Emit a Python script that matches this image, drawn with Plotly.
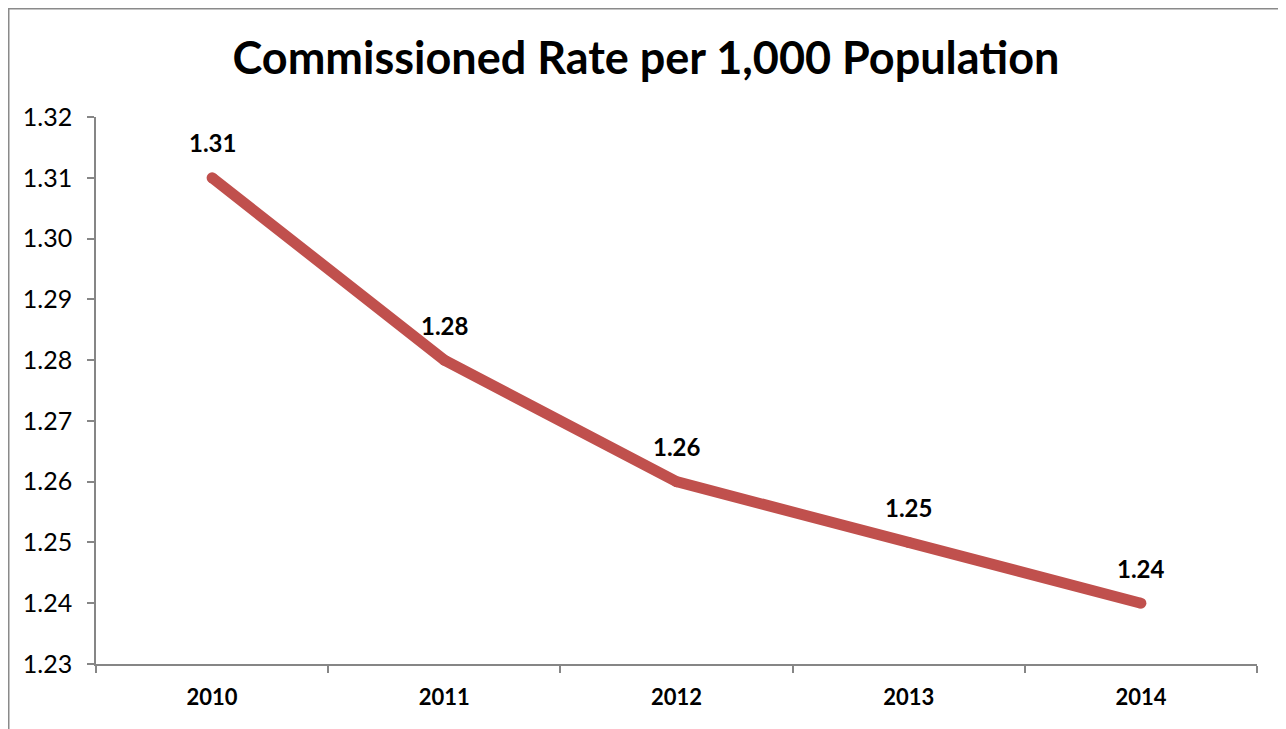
import plotly.graph_objects as go

# Data
years = ['2010', '2011', '2012', '2013', '2014']
rates = [1.31, 1.28, 1.26, 1.25, 1.24]
labels = ['1.31', '1.28', '1.26', '1.25', '1.24']

line_color = '#C0504D'
axis_color = '#868686'
font_family = 'Lato, Open Sans, sans-serif'

trace = go.Scatter(x=years, y=rates, mode='lines+markers',
                   line={'color': line_color, 'width': 11},
                   marker={'color': line_color, 'size': 11},
                   hoverinfo='x+y', showlegend=False)

fig = go.Figure(data=[trace])

# data labels above each point (x given as category index)
for i, (val, lab) in enumerate(zip(rates, labels)):
    fig.add_annotation(x=i, y=val, text='<b>' + lab + '</b>', showarrow=False,
                       yshift=35, font={'size': 24, 'color': 'black', 'family': font_family})

# page has an 8px body margin, so the figure is sized and placed to allow for it
FW, FH = 1278, 721
L, T, W, H = 88, 109, 1161, 547

# outer chart border (bottom edge runs off the page)
fig.add_shape(type='rect', xref='paper', yref='paper',
              x0=(0.75 - L) / W, x1=(1276 - L) / W,
              y0=(T + H - 760) / H, y1=(T + H - 0.75) / H,
              line={'color': '#8A8A8A', 'width': 1.5}, layer='below')

fig.update_layout(
    width=FW, height=FH,
    margin={'l': L, 'r': FW - L - W, 't': T, 'b': FH - T - H},
    paper_bgcolor='white', plot_bgcolor='white',
    font={'family': font_family, 'color': 'black'},
    title={'text': '<b>Commissioned Rate per 1,000 Population</b>',
           'x': 638 / FW, 'xanchor': 'center', 'y': 1 - 50 / FH, 'yanchor': 'middle',
           'font': {'size': 45, 'family': font_family, 'color': 'black'}},
    xaxis={'type': 'category', 'range': [-0.5, 4.5], 'automargin': False,
           'showgrid': False, 'zeroline': False,
           'showline': True, 'linecolor': axis_color, 'linewidth': 1.5,
           'ticks': 'outside', 'tickson': 'boundaries', 'ticklen': 7,
           'tickcolor': axis_color, 'tickwidth': 1.5, 'tickangle': 0,
           'tickfont': {'size': 22, 'family': font_family, 'color': 'black', 'weight': 'bold'},
           'ticklabelstandoff': 13},
    yaxis={'range': [1.23, 1.32], 'dtick': 0.01, 'tickformat': '.2f', 'automargin': False,
           'showgrid': False, 'zeroline': False,
           'showline': True, 'linecolor': axis_color, 'linewidth': 1.5,
           'ticks': 'outside', 'ticklen': 7, 'tickcolor': axis_color, 'tickwidth': 1.5,
           'tickfont': {'size': 25, 'family': font_family, 'color': 'black'},
           'ticklabelstandoff': 10},
)

fig.write_html('out.html')
